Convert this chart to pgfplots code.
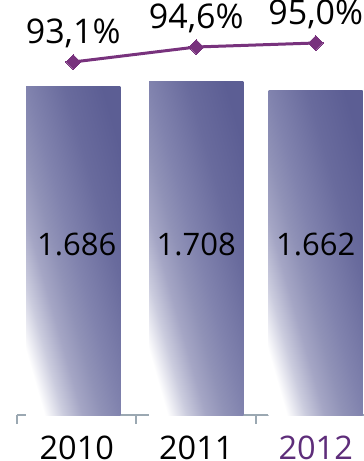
\documentclass[border=0pt]{standalone}
\usepackage{pgfplots}
\pgfplotsset{compat=1.18}
\usepackage{fontspec}
\setmainfont{Open Sans}

\definecolor{barTop}{RGB}{92,94,148}
\definecolor{sh1}{RGB}{203,204,222}
\definecolor{sh2}{RGB}{165,166,197}
\definecolor{sh3}{RGB}{144,146,183}
\definecolor{sh4}{RGB}{129,131,174}
\definecolor{sh5}{RGB}{105,107,157}
\definecolor{lineC}{RGB}{120,50,125}
\definecolor{axisC}{RGB}{155,168,178}
\definecolor{yearC}{RGB}{94,45,122}

% white in the lower left corner, dark in the upper right
\pgfdeclareverticalshading{barshade}{100bp}{color(0bp)=(white); color(25bp)=(white);
  color(31.25bp)=(sh1); color(37.5bp)=(sh2); color(43.75bp)=(sh3);
  color(50bp)=(sh4); color(62.5bp)=(sh5); color(75bp)=(barTop); color(100bp)=(barTop)}

\pgfplotsset{
  base/.style={
    scale only axis, width=347pt, height=415pt,
    xmin=-0.5, xmax=2.404,
    clip=false,
    /pgf/number format/assume math mode=true,
    font=\fontsize{31pt}{36pt}\selectfont,
  },
  onebar/.style={ybar, bar width=0.787, bar shift=0pt, draw=none,
    shade, shading=barshade, shading angle=-74,
    nodes near coords,
    visualization depends on={rawy \as \rawy},
    every node near coord/.append style={anchor=center, inner sep=0pt,
      yshift={170.5pt-\rawy*0.19511pt}},
  },
}

\begin{document}
\begin{tikzpicture}
\useasboundingbox (-17pt,-46pt) rectangle (347pt,415pt);
% bars
\begin{axis}[
  base,
  ymin=0, ymax=2127,
  axis x line*=bottom, axis y line=none,
  axis line style={axisC, line width=2.2pt, -},
  xtick={-0.5,0.5,1.5}, xticklabels={},
  tick align=outside, major tick length=9pt,
  tick style={axisC, line width=2pt},
  extra x ticks={0,1,2},
  extra x tick labels={2010,2011,\textcolor{yearC}{2012}},
  extra x tick style={major tick length=0pt, tick style={draw=none}},
  xticklabel style={anchor=north, inner sep=0pt, yshift=-21pt,
    font=\fontsize{32.5pt}{37pt}\selectfont},
  /pgf/number format/1000 sep={.},
]
\addplot[onebar, bar shift=-3.5pt] coordinates {(0,1686)};
\addplot[onebar] coordinates {(1,1708)};
\addplot[onebar] coordinates {(2,1662)};
\end{axis}
% share line
\begin{axis}[
  base,
  ymin=57.8, ymax=99.3,
  axis lines=none,
]
\addplot[lineC, line width=3pt, mark=square*,
  mark options={rotate=45, solid, fill=lineC, draw=lineC, line width=0pt},
  mark size=5.2pt,
  nodes near coords={\pgfmathprintnumber[fixed, fixed zerofill, precision=1, use comma]{\pgfplotspointmeta}\%},
  every node near coord/.append style={anchor=center, inner sep=0pt, yshift=29pt, black,
    font=\fontsize{34pt}{39pt}\selectfont},
] coordinates {(-0.03,93.1) (1,94.6) (2,95.0)};
\end{axis}
\end{tikzpicture}
\end{document}
